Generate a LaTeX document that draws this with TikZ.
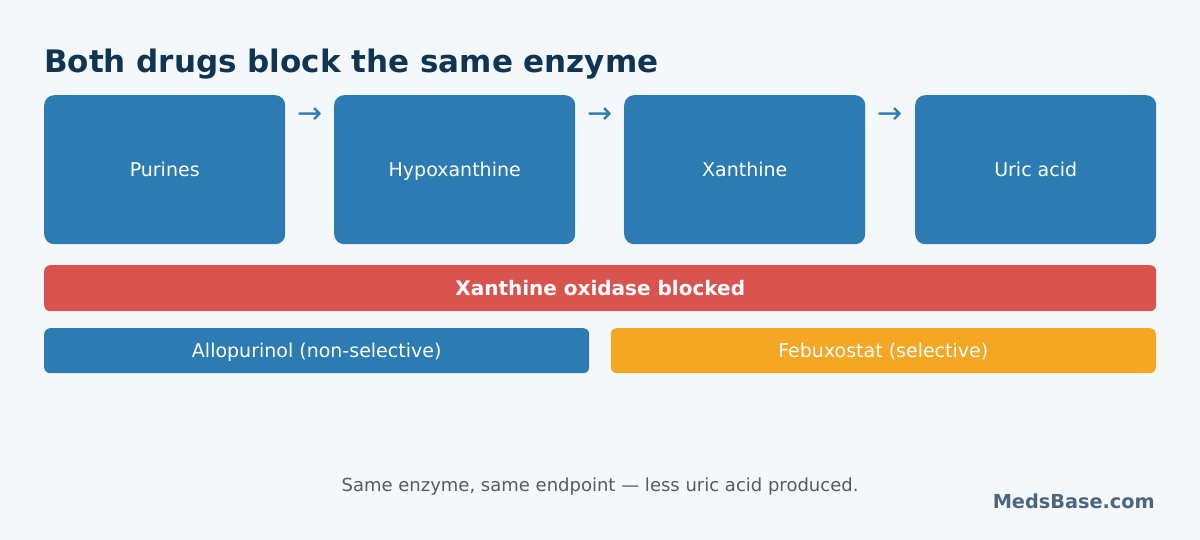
\documentclass[tikz,border=0pt]{standalone}
\usepackage{fontspec}
\setmainfont{DejaVu Sans}
\usepackage{tikz}
\usepackage{xcolor}
\usetikzlibrary{
  positioning, arrows.meta, calc,
}
\definecolor{pageBg}     {HTML}{F4F8FB}
\definecolor{titleInk}   {HTML}{0F3553}
\definecolor{stepBlue}   {HTML}{2C7BB3}
\definecolor{blockRed}   {HTML}{D9534F}
\definecolor{drugOrange} {HTML}{F5A623}
\definecolor{cMuted}     {HTML}{5A5A5A}
\definecolor{brandInk}   {HTML}{4A6680}

\begin{document}
\begin{tikzpicture}[x=1pt, y=-1pt,
    stagebox/.style={fill=stepBlue, rounded corners=10pt, text=white,
      minimum width=241pt, minimum height=149pt, inner sep=0pt,
      text height=16pt, text depth=2pt,
      font=\fontsize{19pt}{22pt}\selectfont},
    barbox/.style={rounded corners=6pt, text=white, inner sep=0pt,
      text height=16pt, text depth=2pt,
      minimum height=46pt, font=\fontsize{19pt}{22pt}\selectfont},
    arrowglyph/.style={text=stepBlue, inner sep=0pt,
      font=\fontsize{30pt}{32pt}\selectfont}]
  \fill[pageBg] (0,0) rectangle (1200,540);
  \useasboundingbox (0,0) rectangle (1200,540);

  % title
  \node[anchor=base west, inner sep=0pt, text=titleInk,
        font=\fontsize{31pt}{36pt}\selectfont\bfseries] (title) at (44,73)
        {Both drugs block the same enzyme};

  % pathway steps
  \foreach \x/\name/\txt in
    {44/purines/Purines, 334/hypox/Hypoxanthine,
     624/xanth/Xanthine, 915/uric/Uric acid}{
    \node[stagebox, anchor=north west] (\name) at (\x,95) {\txt};
  }
  \foreach \a/\b/\name in {purines/hypox/arr1, hypox/xanth/arr2, xanth/uric/arr3}{
    \node[arrowglyph] (\name) at ($(\a.north east)!0.5!(\b.north west)+(0,21)$) {→};
  }

  % enzyme bar and drugs
  \node[barbox, fill=blockRed, anchor=north west, minimum width=1112pt,
        font=\fontsize{20pt}{23pt}\selectfont\bfseries] (enzyme) at (44,265)
        {Xanthine oxidase blocked};
  \node[barbox, fill=stepBlue, anchor=north west, minimum width=545pt,
        minimum height=45pt] (allo) at (44,328) {Allopurinol (non-selective)};
  \node[barbox, fill=drugOrange, anchor=north east, minimum width=545pt,
        minimum height=45pt] (febu) at (1156,328) {Febuxostat (selective)};

  % footer
  \node[anchor=base, inner sep=0pt, text=cMuted,
        font=\fontsize{18pt}{21pt}\selectfont] (note) at (600,491)
        {Same enzyme, same endpoint — less uric acid produced.};
  \node[anchor=base east, inner sep=0pt, text=brandInk,
        font=\fontsize{19.3pt}{22pt}\selectfont\bfseries] (brand) at (1155,508)
        {MedsBase.com};
\end{tikzpicture}
\end{document}
